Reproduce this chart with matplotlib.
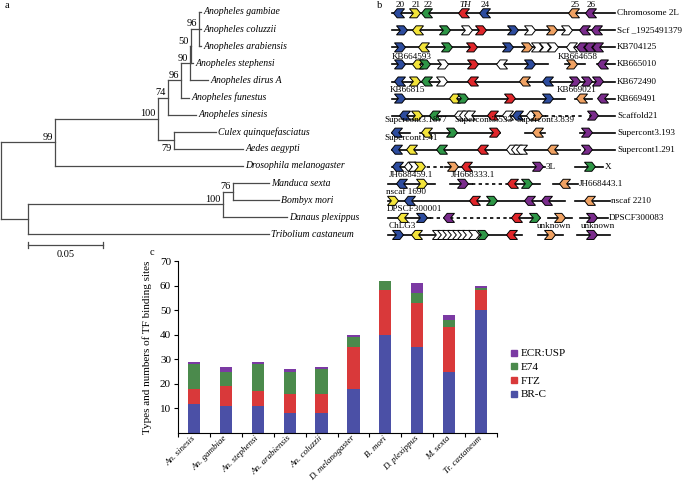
import numpy as np
import matplotlib
matplotlib.use('Agg')
import matplotlib.pyplot as plt
from matplotlib.patches import Polygon
from matplotlib.lines import Line2D

plt.rcParams['font.family'] = ['Liberation Serif', 'DejaVu Serif']

# ---------------- panel a: tree (branch lengths, support values) ----------------
tree = (None, 0.0, [
    (99, 0.036, [
        (100, 0.0687, [
            (74, 0.0067, [
                (96, 0.0087, [
                    (90, 0.006, [
                        (50, 0.0007, [
                            (96, 0.0053, [
                                ("Anopheles gambiae", 0.0013),
                                ("Anopheles coluzzii", 0.0013),
                                ("Anopheles arabiensis", 0.0013)]),
                            ("Anopheles stephensi", 0.0013)]),
                        ("Anopheles dirus A", 0.012)]),
                    ("Anopheles funestus", 0.0053)]),
                ("Anopheles sinesis", 0.0187)]),
            (79, 0.0107, [
                ("Culex quinquefasciatus", 0.028),
                ("Aedes aegypti", 0.046)])]),
        ("Drosophila melanogaster", 0.125)]),
    (None, 0.018, [
        (100, 0.13, [
            (76, 0.0067, [
                ("Manduca sexta", 0.024),
                ("Bombyx mori", 0.0307)]),
            ("Danaus plexippus", 0.0427)]),
        ("Tribolium castaneum", 0.1607)])])
labels_below = [79]
scale_len = 0.05

# ---------------- panel b: synteny rows ----------------
row_names = ["Chromosome 2L", "Scf _1925491379", "KB704125", "KB665010", "KB672490",
             "KB669491", "Scaffold21", "Supercont3.193", "Supercont1.291", "X",
             "JH668443.1", "nscaf 2210", "DPSCF300083", ""]
row_name_x = [617, 617, 617, 617, 617, 617, 617, 617, 617, 605, 579, 611, 609, 0]

row_lines = [
    [(392, 615, '-')],
    [(392, 615, '-')],
    [(392, 615, '-')],
    [(392, 548, '-'), (565, 585, '-'), (597, 615, '-')],
    [(392, 615, '-')],
    [(392, 565, '-'), (575, 592, '-'), (600, 615, '-')],
    [(392, 545, '-'), (545, 585, '--'), (590, 615, '-')],
    [(392, 410, '-'), (420, 500, '-'), (525, 545, '-'), (580, 615, '-')],
    [(392, 580, '-'), (585, 615, '-')],
    [(392, 420, '-'), (420, 445, '--'), (445, 545, '-'), (575, 603, '-')],
    [(388, 435, '-'), (450, 472, '-'), (472, 510, '--'), (510, 540, '-'), (553, 578, '-')],
    [(388, 565, '-'), (575, 610, '-')],
    [(388, 430, '-'), (430, 510, '--'), (510, 540, '-'), (548, 572, '-'), (580, 608, '-')],
    [(388, 522, '-'), (538, 563, '-'), (577, 610, '-')],
]

# (position, colour code, direction)
row_genes = [
    [(399, 'B', -1), (415, 'Y', 1), (427, 'G', -1), (464, 'R', -1), (485, 'B', -1),
     (574, 'O', -1), (591, 'P', -1)],
    [(402, 'B', 1), (418, 'Y', -1), (445, 'G', 1), (467, 'W', 1), (481, 'R', 1),
     (513, 'B', 1), (530, 'W', 1), (552, 'O', 1), (567, 'W', 1), (585, 'P', -1), (597, 'P', -1)],
    [(400, 'B', 1), (424, 'Y', -1), (447, 'G', 1), (472, 'R', 1), (508, 'B', 1),
     (527, 'O', 1), (537, 'W', 1), (545, 'W', 1), (553, 'W', 1), (572, 'W', -1),
     (582, 'P', -1), (590, 'P', -1), (598, 'P', -1)],
    [(400, 'B', 1), (418, 'Y', -1), (425, 'G', 1), (443, 'W', 1), (473, 'R', 1),
     (502, 'W', -1), (530, 'B', 1), (572, 'O', 1), (603, 'P', -1)],
    [(400, 'B', -1), (415, 'Y', 1), (427, 'G', -1), (442, 'W', 1), (473, 'R', -1),
     (525, 'O', -1), (548, 'B', -1), (575, 'P', 1), (587, 'P', 1), (598, 'P', 1)],
    [(400, 'B', 1), (455, 'Y', -1), (463, 'G', 1), (510, 'R', 1), (548, 'B', 1),
     (582, 'O', -1), (603, 'P', -1)],
    [(405, 'B', -1), (417, 'Y', 1), (435, 'G', -1), (460, 'W', -1), (465, 'W', -1),
     (470, 'W', -1), (493, 'R', -1), (508, 'W', -1), (518, 'B', -1), (532, 'W', -1),
     (537, 'O', 1), (593, 'P', 1)],
    [(397, 'B', -1), (427, 'Y', -1), (452, 'G', 1), (495, 'R', 1), (538, 'O', -1), (587, 'P', 1)],
    [(397, 'B', -1), (412, 'Y', -1), (442, 'G', -1), (483, 'R', -1), (512, 'W', -1),
     (517, 'W', -1), (522, 'W', -1), (553, 'O', -1), (587, 'P', 1)],
    [(398, 'B', -1), (410, 'W', -1), (414, 'W', 1), (420, 'Y', 1), (453, 'O', 1),
     (467, 'R', -1), (538, 'P', 1), (590, 'G', 1)],
    [(402, 'B', -1), (422, 'Y', 1), (463, 'P', 1), (513, 'R', -1), (527, 'G', 1), (565, 'O', -1)],
    [(393, 'Y', 1), (410, 'B', -1), (475, 'R', -1), (492, 'G', 1), (530, 'P', -1),
     (547, 'P', -1), (590, 'O', -1)],
    [(403, 'Y', -1), (422, 'B', 1), (449, 'P', -1), (517, 'R', -1), (535, 'G', 1),
     (560, 'O', 1), (592, 'P', 1)],
    [(398, 'B', 1), (417, 'Y', -1), (438, 'W', 1), (443, 'W', 1), (448, 'W', 1),
     (453, 'W', 1), (458, 'W', 1), (463, 'W', 1), (468, 'W', 1), (474, 'W', 1),
     (483, 'G', 1), (512, 'R', -1), (550, 'O', 1), (592, 'P', 1)],
]

# scaffold names written between rows (x, row, text)
scaffold_labels = [
    (392, 2.56, "KB664593"), (558, 2.56, "KB664658"),
    (390, 4.5, "KB66815"), (557, 4.5, "KB669021"),
    (384, 6.28, "Supercont3.1877"), (454, 6.28, "Supercont3.533"), (516, 6.28, "Supercont3.839"),
    (384, 7.3, "Supercont1.41"),
    (546, 9.0, "3L"),
    (389, 9.5, "JH688459.1"), (451, 9.5, "JH668333.1"),
    (386, 10.5, "nscaf 1690"),
    (387, 11.45, "DPSCF300001"),
    (389, 12.47, "ChLG3"), (537, 12.47, "unknown"), (581, 12.47, "unknown"),
]
gene_numbers = [(400, "20"), (416, "21"), (428, "22"), (465, "TH"), (485, "24"),
                (575, "25"), (591, "26")]
gene_colors = {'B': '#2d4c9e', 'Y': '#f3e43a', 'G': '#2e9646', 'R': '#e0262a',
               'O': '#f0a263', 'P': '#7a2c8c', 'W': 'white'}

# ---------------- panel c: stacked bars ----------------
species_c = ["An. sinesis", "An. gambiae", "An. stephensi", "An. arabiensis", "An. coluzzii",
             "D. melanogaster", "B. mori", "D. plexippus", "M. sexta", "Tr. castaneum"]
brc = [12, 11, 11, 8, 8, 18, 40, 35, 25, 50]
ftz = [6, 8, 6, 8, 8, 17, 18, 18, 18, 8]
e74 = [10, 6, 11, 9, 10, 4, 4, 4, 3, 1]
ecr = [1, 2, 1, 1, 1, 1, 0, 4, 2, 1]

W, H = 685, 482
fig = plt.figure(figsize=(W / 100, H / 100), dpi=100)

# ===== panel a =====
axa = fig.add_axes([0, 0, 1, 1])
axa.set_xlim(-1 / 1500, (W - 1) / 1500)
axa.set_ylim((H - 12) / 17.1, -12 / 17.1)
axa.axis('off')
tree_col = '#4a4a4a'
leaf_i = [0]


def draw(node, x0):
    if len(node) == 2:
        name, bl = node
        y = leaf_i[0]
        leaf_i[0] += 1
        axa.plot([x0, x0 + bl], [y, y], color=tree_col, lw=0.9)
        axa.text(x0 + bl + 0.0015, y, name, style='italic', fontsize=7,
                 va='center', ha='left')
        return y
    sup, bl, kids = node
    x1 = x0 + bl
    ys = [draw(k, x1) for k in kids]
    axa.plot([x1, x1], [min(ys), max(ys)], color=tree_col, lw=0.9)
    y = (min(ys) + max(ys)) / 2
    if bl > 0:
        axa.plot([x0, x1], [y, y], color=tree_col, lw=0.9)
    if sup is not None:
        if sup in labels_below:
            axa.annotate(str(sup), (x1, y), xytext=(-2, -3), textcoords='offset points',
                         ha='right', va='top', fontsize=7.5)
        else:
            axa.annotate(str(sup), (x1, y), xytext=(-1.5, 0.5), textcoords='offset points',
                         ha='right', va='bottom', fontsize=7.5)
    return y


draw(tree, 0.0)
sb_x0 = tree[2][1][1]
sb_y = (245 - 12) / 17.1
axa.plot([sb_x0, sb_x0 + scale_len], [sb_y, sb_y], color=tree_col, lw=0.9)
for xx in (sb_x0, sb_x0 + scale_len):
    axa.plot([xx, xx], [sb_y - 0.17, sb_y + 0.17], color=tree_col, lw=0.9)
axa.text(sb_x0 + scale_len / 2, sb_y + 0.3, "0.05", ha='center', va='top', fontsize=7.5)
fig.text(5 / W, 1 - 6 / H, "a", fontsize=7.5, va='center')

# ===== panel b =====
axb = fig.add_axes([0, 0, 1, 1])
axb.set_xlim(0, W)
axb.set_ylim((H - 13.3) / 17.05, -13.3 / 17.05)
axb.axis('off')
gw, gh = 11.0, 0.53
shape = np.array([(-0.5, 0.5), (0.17, 0.5), (0.5, 0.0), (0.17, -0.5), (-0.5, -0.5), (-0.15, 0.0)])
fs_b = 6.6

for r, segs in enumerate(row_lines):
    for a, b, ls in segs:
        if ls == '--':
            axb.plot([a, b], [r, r], color='black', lw=1.2, linestyle=(0, (2, 2)))
        else:
            axb.plot([a, b], [r, r], color='black', lw=1.2)
    for x, c, d in row_genes[r]:
        pts = np.column_stack([x + d * shape[:, 0] * gw, r + shape[:, 1] * gh])
        axb.add_patch(Polygon(pts, closed=True, facecolor=gene_colors[c],
                              edgecolor='black', lw=0.7, zorder=3))
    if row_names[r]:
        axb.text(row_name_x[r], r, row_names[r], fontsize=fs_b, va='center', ha='left')

for x, r, t in scaffold_labels:
    axb.text(x, r, t, fontsize=fs_b, va='center', ha='left')
for x, t in gene_numbers:
    axb.text(x, -0.5, t, fontsize=fs_b, ha='center', va='center',
             style='italic' if t == 'TH' else 'normal')
fig.text(377 / W, 1 - 6 / H, "b", fontsize=7.5, va='center')

# ===== panel c =====
axc = fig.add_axes([178 / W, 1 - 433 / H, (497 - 178) / W, (433 - 261) / H])
xs = np.arange(len(species_c))
series = [(brc, 'BR-C', '#4b50a6'), (ftz, 'FTZ', '#d9393a'),
          (e74, 'E74', '#4b8a4c'), (ecr, 'ECR:USP', '#7b3aa3')]
bottom = np.zeros(len(xs))
handles = []
for vals, lab, col in series:
    axc.bar(xs, vals, bottom=bottom, width=0.38, color=col, linewidth=0)
    bottom += np.array(vals)
    handles.append(Line2D([], [], marker='s', ls='none', color=col, markersize=4, label=lab))
axc.set_xlim(-0.5, len(xs) - 0.5)
axc.set_ylim(0, 70)
axc.set_yticks(np.arange(10, 71, 10))
axc.set_xticks(np.arange(-0.5, len(xs), 1.0))
axc.set_xticklabels([])
axc.set_xticks(xs, minor=True)
axc.set_xticklabels(species_c, minor=True, rotation=45, ha='right', va='center',
                    rotation_mode='anchor', fontsize=6.5, style='italic')
axc.tick_params(axis='x', which='minor', length=0, pad=3)
axc.tick_params(axis='x', which='major', length=3, width=0.8, direction='out')
axc.tick_params(axis='y', length=3, width=0.8, labelsize=8, pad=2)
for s in ('top', 'right'):
    axc.spines[s].set_visible(False)
axc.spines['left'].set_linewidth(0.8)
axc.spines['bottom'].set_linewidth(0.8)
axc.set_ylabel("Types and numbers of TF binding sites", fontsize=8, labelpad=6)
fig.legend(handles=handles[::-1], loc='center left', bbox_to_anchor=(505 / W, 1 - 374 / H),
           frameon=False, fontsize=8, handlelength=0.6, handletextpad=0.3,
           labelspacing=0.35, borderpad=0)
fig.text(150 / W, 1 - 252 / H, "c", fontsize=7.5, va='center')

fig.savefig('out.png', dpi=100)
